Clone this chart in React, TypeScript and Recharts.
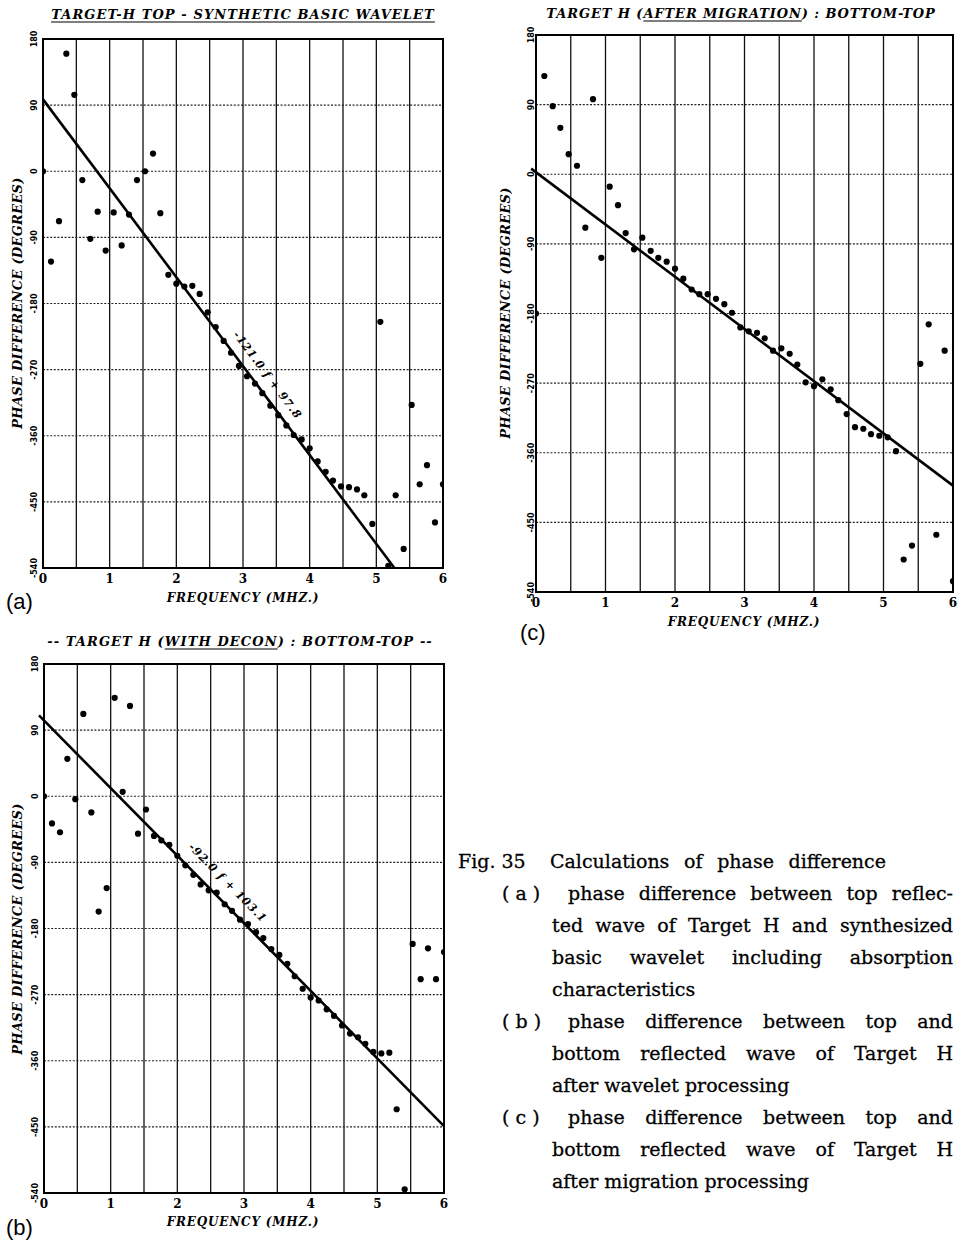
import React from 'react';
import {
  ScatterChart,
  Scatter,
  XAxis,
  YAxis,
  CartesianGrid,
  ReferenceLine,
  ReferenceArea,
  ReferenceDot,
} from 'recharts';

// Frequency (MHz) of each sample
const frequencies = [
  0, 0.12, 0.24, 0.35, 0.47, 0.59, 0.71, 0.82, 0.94, 1.06,
  1.18, 1.29, 1.41, 1.53, 1.65, 1.76, 1.88, 2.0, 2.12, 2.24,
  2.35, 2.47, 2.59, 2.71, 2.82, 2.94, 3.06, 3.18, 3.29, 3.41,
  3.53, 3.65, 3.76, 3.88, 4.0, 4.12, 4.24, 4.35, 4.47, 4.59,
  4.71, 4.82, 4.94, 5.06, 5.18, 5.29, 5.41, 5.53, 5.65, 5.76,
  5.88, 6.0,
];

// (a) Target-H top - synthetic basic wavelet (degrees)
const phaseA = [
  0, -123, -68, 160, 104, -12, -92, -55, -108, -56,
  -101, -59, -12, 0, 24, -57, -141, -153, -157, -156,
  -167, -192, -212, -231, -247, -265, -279, -289, -302, -319,
  -332, -346, -359, -365, -377, -395, -409, -421, -429, -430,
  -433, -441, -480, -205, -537, -441, -514, -318, -426, -400,
  -478, -426,
];

// (b) Target H (with decon) : bottom-top (degrees)
const phaseB = [
  0, -37, -49, 51, -4, 112, -22, -157, -125, 134,
  6, 123, -51, -18, -54, -60, -66, -81, -94, -107,
  -120, -128, -131, -147, -156, -168, -174, -185, -193, -208,
  -216, -228, -245, -262, -274, -278, -290, -299, -312, -323,
  -328, -337, -348, -350, -349, -426, -535, -201, -249, -207,
  -249, -212,
];

// (c) Target H (after migration) : bottom-top (degrees)
const phaseC = [
  -180, 127, 88, 60, 26, 11, -69, 97, -108, -16,
  -40, -76, -97, -82, -99, -108, -113, -122, -135, -149,
  -155, -155, -161, -168, -179, -198, -203, -205, -212, -228,
  -225, -232, -246, -269, -274, -265, -278, -292, -310, -327,
  -329, -336, -338, -340, -358, -498, -480, -245, -194, -466,
  -228, -526,
];

// Linear fits: [slope, intercept, start frequency]
const fitA = [-121.0, 97.8, 0];
const fitB = [-92.0, 103.1, -0.075];
const fitC = [-67.5, 2.5, -0.07];

const xTicks = [0, 0.5, 1, 1.5, 2, 2.5, 3, 3.5, 4, 4.5, 5, 5.5, 6];
const yTicks = [180, 90, 0, -90, -180, -270, -360, -450, -540];

const X_MIN = 0;
const X_MAX = 6;
const Y_MIN = -540;
const Y_MAX = 180;

const labelFont = '"DejaVu Serif", serif';

type PanelProps = {
  phases: number[];
  fit: number[];
  fitLabel?: string;
  fitLabelAt?: { f: number; p: number; angle: number };
  width: number;
  height: number;
  top: number;
  right: number;
  axisW: number;
  axisH: number;
  yTickGap: number;
};

function PhasePanel({ phases, fit, fitLabel, fitLabelAt, width, height, top, right, axisW, axisH, yTickGap }: PanelProps) {
  const points = frequencies.map((f, i) => ({ f, phase: phases[i] }));
  const [slope, intercept, fStart] = fit;
  let xEnd = X_MAX;
  let yEnd = intercept + slope * X_MAX;
  if (yEnd < Y_MIN) {
    xEnd = (Y_MIN - intercept) / slope;
    yEnd = Y_MIN;
  }
  const yStart = intercept + slope * fStart;

  const renderXTick = (props: any) => {
    const { x, y, payload } = props;
    if (!Number.isInteger(payload.value)) return <g />;
    return (
      <text
        x={x}
        y={y + 15}
        textAnchor="middle"
        fontFamily={labelFont}
        fontWeight="bold"
        fontSize={12}
        fill="#000"
      >
        {payload.value}
      </text>
    );
  };

  const renderYTick = (props: any) => {
    const { x, y, payload } = props;
    const bx = x - yTickGap;
    return (
      <text
        x={bx}
        y={y}
        transform={`rotate(-90 ${bx} ${y})`}
        textAnchor="middle"
        fontFamily='"DejaVu Sans", sans-serif'
        fontWeight="bold"
        fontSize={8}
        fill="#000"
      >
        {payload.value}
      </text>
    );
  };

  return (
    <ScatterChart width={width} height={height} margin={{ top, right, bottom: 0, left: 0 }}>
      <CartesianGrid horizontal={false} stroke="#111" strokeWidth={1.3} />
      <CartesianGrid vertical={false} stroke="#222" strokeWidth={1.2} strokeDasharray="2 1.6" />
      <XAxis
        type="number"
        dataKey="f"
        domain={[X_MIN, X_MAX]}
        ticks={xTicks}
        height={axisH}
        tickSize={0}
        tickMargin={0}
        axisLine={false}
        tickLine={false}
        tick={renderXTick}
        interval={0}
        allowDataOverflow
      />
      <YAxis
        type="number"
        dataKey="phase"
        domain={[Y_MIN, Y_MAX]}
        ticks={yTicks}
        width={axisW}
        tickSize={0}
        tickMargin={0}
        axisLine={false}
        tickLine={false}
        tick={renderYTick}
        interval={0}
        allowDataOverflow
      />
      <ReferenceArea
        x1={X_MIN}
        x2={X_MAX}
        y1={Y_MIN}
        y2={Y_MAX}
        fill="none"
        fillOpacity={0}
        stroke="#000"
        strokeWidth={2}
        ifOverflow="visible"
      />
      <ReferenceLine
        segment={[
          { x: fStart, y: yStart },
          { x: xEnd, y: yEnd },
        ]}
        stroke="#000"
        strokeWidth={2.6}
        ifOverflow="visible"
      />
      {fitLabel && fitLabelAt ? (
        <ReferenceDot
          x={fitLabelAt.f}
          y={fitLabelAt.p}
          r={0}
          ifOverflow="visible"
          shape={(p: any) => (
            <text
              x={p.cx}
              y={p.cy}
              transform={`rotate(${fitLabelAt.angle} ${p.cx} ${p.cy})`}
              textAnchor="middle"
              dominantBaseline="middle"
              fontFamily={labelFont}
              fontStyle="italic"
              fontWeight="bold"
              fontSize={11}
              letterSpacing={1}
              fill="#000"
            >
              {fitLabel}
            </text>
          )}
        />
      ) : null}
      <Scatter
        data={points}
        fill="#000"
        isAnimationActive={false}
        shape={(p: any) => <circle cx={p.cx} cy={p.cy} r={3.1} fill="#000" />}
      />
    </ScatterChart>
  );
}

const abs = (left: number, top: number): React.CSSProperties => ({
  position: 'absolute',
  left,
  top,
});

const centerText = (
  cx: number,
  cy: number,
  size: number,
  spacing: number,
  rotate = 0,
): React.CSSProperties => ({
  position: 'absolute',
  left: cx,
  top: cy,
  transform: `translate(-50%, -50%) rotate(${rotate}deg)`,
  whiteSpace: 'nowrap',
  fontFamily: labelFont,
  fontWeight: 'bold',
  fontStyle: 'italic',
  fontSize: size,
  letterSpacing: spacing,
  lineHeight: 1,
  color: '#000',
});

const panelLetter = (left: number, top: number): React.CSSProperties => ({
  position: 'absolute',
  left,
  top,
  fontFamily: '"Liberation Sans", Arial, sans-serif',
  fontSize: 22,
  lineHeight: 1,
  color: '#000',
});

const capFont = '"DejaVu Serif", serif';

function CapLine({ text, left, right, yc, justify }: { text: string; left: number; right: number; yc: number; justify: boolean }) {
  return (
    <div
      style={{
        position: 'absolute',
        left,
        width: right - left,
        top: yc - 11,
        fontFamily: capFont,
        fontSize: 19,
        lineHeight: 1,
        whiteSpace: justify ? 'normal' : 'nowrap',
        textAlign: justify ? 'justify' : 'left',
        textAlignLast: justify ? 'justify' : 'left',
        color: '#000',
        WebkitTextStroke: '0.3px #000',
      } as React.CSSProperties}
    >
      {text}
    </div>
  );
}

export default function App() {
  return (
    <div style={{ position: 'relative', width: 961, height: 1244, background: '#fff', overflow: 'hidden' }}>
      <style>{`body{margin:0;}`}</style>

      {/* Panel (a) */}
      <div style={abs(0, 0)}>
        <PhasePanel
          phases={phaseA}
          fit={fitA}
          fitLabel="-121.0 f + 97.8"
          fitLabelAt={{ f: 3.36, p: -278, angle: 53.3 }}
          width={460}
          height={620}
          top={39}
          right={17}
          axisW={43}
          axisH={52}
          yTickGap={6}
        />
      </div>
      <div style={{ ...centerText(243, 14, 13, 1.1), textDecoration: 'underline', textUnderlineOffset: 3 }}>
        TARGET-H TOP - SYNTHETIC BASIC WAVELET
      </div>
      <div style={centerText(17, 303, 13, 0.3, -90)}>PHASE DIFFERENCE (DEGREES)</div>
      <div style={centerText(243, 598, 12, 0.8)}>FREQUENCY (MHZ.)</div>
      <div style={panelLetter(6, 591)}>(a)</div>

      {/* Panel (c) */}
      <div style={abs(470, 0)}>
        <PhasePanel
          phases={phaseC}
          fit={fitC}
          width={491}
          height={640}
          top={35}
          right={8}
          axisW={66}
          axisH={48}
          yTickGap={2}
        />
      </div>
      <div style={centerText(741, 13, 13, 0.9)}>
        TARGET H (<span style={{ textDecoration: 'underline', textUnderlineOffset: 3 }}>AFTER MIGRATION</span>) : BOTTOM-TOP
      </div>
      <div style={centerText(505, 313, 13, 0.3, -90)}>PHASE DIFFERENCE (DEGREES)</div>
      <div style={centerText(744, 622, 12, 0.8)}>FREQUENCY (MHZ.)</div>
      <div style={panelLetter(520, 622)}>(c)</div>

      {/* Panel (b) */}
      <div style={abs(0, 620)}>
        <PhasePanel
          phases={phaseB}
          fit={fitB}
          fitLabel="-92.0 f + 103.1"
          fitLabelAt={{ f: 2.75, p: -118.5, angle: 45.5 }}
          width={460}
          height={624}
          top={44}
          right={16}
          axisW={44}
          axisH={51}
          yTickGap={6}
        />
      </div>
      <div style={centerText(240, 641, 13, 1.1)}>
        -- TARGET H (<span style={{ textDecoration: 'underline', textUnderlineOffset: 3 }}>WITH DECON</span>) : BOTTOM-TOP --
      </div>
      <div style={centerText(17, 929, 13, 0.3, -90)}>PHASE DIFFERENCE (DEGREES)</div>
      <div style={centerText(243, 1222, 12, 0.8)}>FREQUENCY (MHZ.)</div>
      <div style={panelLetter(6, 1217)}>(b)</div>

      {/* Caption */}
      <CapLine text="Fig. 35" left={458} right={540} yc={863} justify={false} />
      <CapLine text="Calculations of phase difference" left={550} right={886} yc={863} justify />
      <CapLine text="( a )" left={502} right={548} yc={895} justify={false} />
      <CapLine text="phase difference between top reflec-" left={568} right={953} yc={895} justify />
      <CapLine text="ted wave of Target H and synthesized" left={552} right={953} yc={927} justify />
      <CapLine text="basic wavelet including absorption" left={552} right={953} yc={959} justify />
      <CapLine text="characteristics" left={552} right={953} yc={991} justify={false} />
      <CapLine text="( b )" left={502} right={548} yc={1023} justify={false} />
      <CapLine text="phase difference between top and" left={568} right={953} yc={1023} justify />
      <CapLine text="bottom reflected wave of Target H" left={552} right={953} yc={1055} justify />
      <CapLine text="after wavelet processing" left={552} right={953} yc={1087} justify={false} />
      <CapLine text="( c )" left={502} right={548} yc={1119} justify={false} />
      <CapLine text="phase difference between top and" left={568} right={953} yc={1119} justify />
      <CapLine text="bottom reflected wave of Target H" left={552} right={953} yc={1151} justify />
      <CapLine text="after migration processing" left={552} right={953} yc={1183} justify={false} />
    </div>
  );
}
